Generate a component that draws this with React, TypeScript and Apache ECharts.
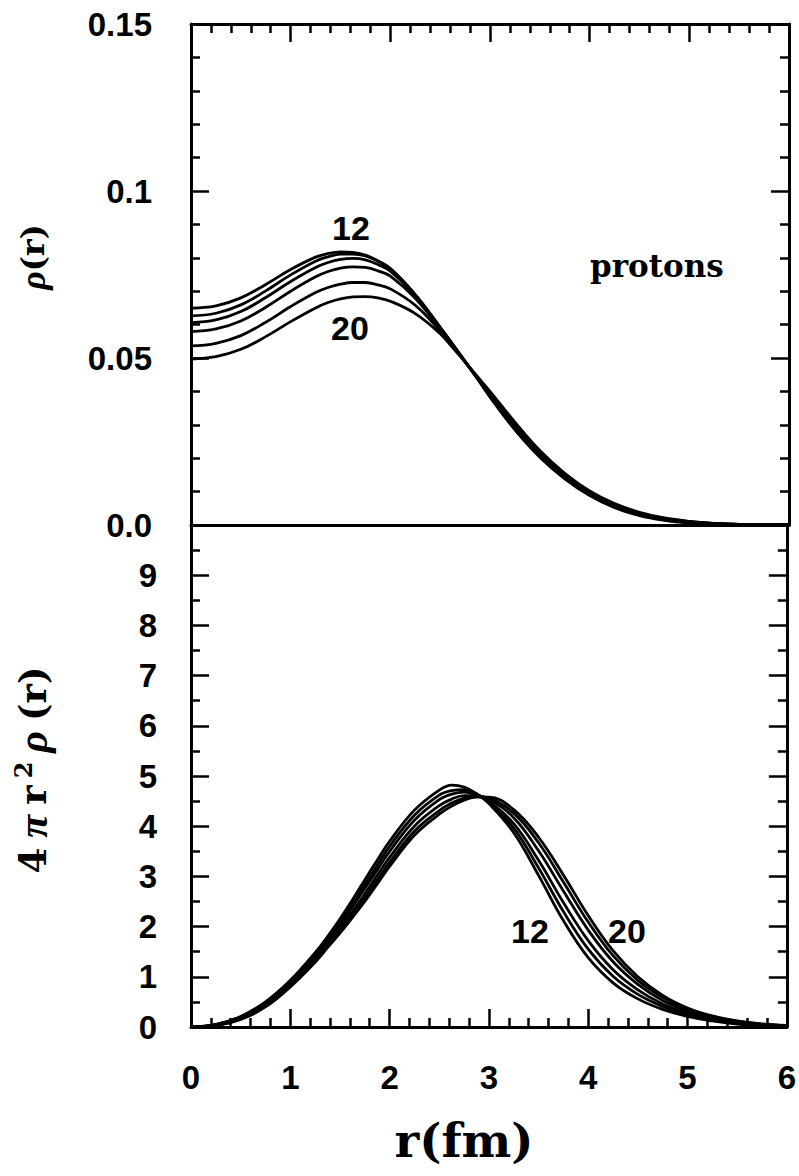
import React, { useEffect, useRef } from "react";
import * as echarts from "echarts";

// radius grid (fm)
const R = [0, 0.25, 0.5, 0.75, 1.0, 1.25, 1.375, 1.5, 1.625, 1.75, 1.875, 2.0, 2.25, 2.5, 2.625, 2.75, 2.875, 3.0, 3.25, 3.5, 3.75, 4.0, 4.25, 4.5, 4.75, 5.0, 5.25, 5.5, 5.75, 6.0];

// top panel: rho(r) for the six curves (12 ... 20)
const RHO_12 = [0.0649, 0.0656, 0.068, 0.072, 0.0765, 0.0802, 0.0813, 0.0818, 0.0816, 0.0808, 0.0791, 0.0768, 0.069, 0.0592, 0.0542, 0.049, 0.0437, 0.0383, 0.0285, 0.0203, 0.0138, 0.0088, 0.0052, 0.0028, 0.0014, 0.0006, 0.0002, 0.0001, 0.0, 0.0];
const RHO_B = [0.0626, 0.0634, 0.0659, 0.0701, 0.0749, 0.079, 0.0803, 0.0811, 0.0811, 0.0806, 0.079, 0.0768, 0.069, 0.0592, 0.0541, 0.0489, 0.0438, 0.0386, 0.0289, 0.0206, 0.0141, 0.009, 0.0054, 0.003, 0.0015, 0.0007, 0.0003, 0.0001, 0.0, 0.0];
const RHO_C = [0.0606, 0.0614, 0.0639, 0.0681, 0.0729, 0.0771, 0.0786, 0.0795, 0.0798, 0.0794, 0.078, 0.076, 0.0687, 0.059, 0.054, 0.0489, 0.0439, 0.0389, 0.0293, 0.021, 0.0144, 0.0093, 0.0057, 0.0032, 0.0017, 0.0008, 0.0004, 0.0001, 0.0, 0.0];
const RHO_D = [0.0579, 0.0587, 0.0611, 0.0652, 0.07, 0.0743, 0.0759, 0.0769, 0.0773, 0.0771, 0.0761, 0.0745, 0.0679, 0.0587, 0.0539, 0.0489, 0.044, 0.0392, 0.0297, 0.0214, 0.0148, 0.0096, 0.0059, 0.0034, 0.0018, 0.0009, 0.0004, 0.0002, 0.0001, 0.0];
const RHO_E = [0.0536, 0.0544, 0.0567, 0.0607, 0.0654, 0.0696, 0.0711, 0.0721, 0.0726, 0.0726, 0.0719, 0.0707, 0.0658, 0.0581, 0.0536, 0.0489, 0.0442, 0.0396, 0.0302, 0.0218, 0.0151, 0.0099, 0.0062, 0.0036, 0.002, 0.001, 0.0005, 0.0002, 0.0001, 0.0];
const RHO_20 = [0.0497, 0.0504, 0.0526, 0.0564, 0.0609, 0.065, 0.0666, 0.0677, 0.0683, 0.0684, 0.068, 0.067, 0.0633, 0.0573, 0.0531, 0.0488, 0.0444, 0.04, 0.0308, 0.0223, 0.0155, 0.0102, 0.0064, 0.0038, 0.0021, 0.0011, 0.0005, 0.0002, 0.0001, 0.0];

// bottom panel: 4 pi r^2 rho(r)
const RAD_12 = [0, 0.05, 0.21, 0.5, 0.93, 1.48, 1.8, 2.15, 2.53, 2.93, 3.32, 3.7, 4.32, 4.72, 4.82, 4.78, 4.65, 4.45, 3.87, 3.02, 2.12, 1.38, 0.88, 0.56, 0.35, 0.21, 0.12, 0.06, 0.03, 0.01];
const RAD_B = [0, 0.046, 0.2, 0.48, 0.9, 1.44, 1.75, 2.09, 2.46, 2.84, 3.22, 3.6, 4.22, 4.62, 4.71, 4.73, 4.64, 4.48, 3.96, 3.17, 2.3, 1.55, 1.01, 0.65, 0.41, 0.24, 0.14, 0.07, 0.036, 0.014];
const RAD_C = [0, 0.042, 0.19, 0.46, 0.88, 1.4, 1.71, 2.04, 2.39, 2.76, 3.13, 3.5, 4.12, 4.53, 4.64, 4.68, 4.62, 4.5, 4.05, 3.32, 2.48, 1.72, 1.14, 0.74, 0.46, 0.28, 0.16, 0.08, 0.042, 0.018];
const RAD_D = [0, 0.037, 0.17, 0.44, 0.85, 1.36, 1.66, 1.97, 2.3, 2.65, 3.02, 3.38, 4.0, 4.41, 4.54, 4.61, 4.61, 4.54, 4.17, 3.51, 2.71, 1.93, 1.3, 0.85, 0.53, 0.32, 0.19, 0.1, 0.05, 0.023];
const RAD_E = [0, 0.033, 0.16, 0.42, 0.82, 1.32, 1.61, 1.91, 2.24, 2.57, 2.93, 3.28, 3.9, 4.31, 4.46, 4.56, 4.59, 4.56, 4.26, 3.67, 2.89, 2.09, 1.42, 0.93, 0.59, 0.35, 0.21, 0.11, 0.054, 0.027];
const RAD_20 = [0, 0.03, 0.15, 0.4, 0.8, 1.29, 1.58, 1.87, 2.18, 2.5, 2.85, 3.2, 3.82, 4.24, 4.4, 4.52, 4.58, 4.58, 4.33, 3.78, 3.03, 2.22, 1.52, 1.0, 0.63, 0.38, 0.22, 0.12, 0.06, 0.03];

const SERIES_NAMES = ["12", "b", "c", "d", "e", "20"];
const TOP_SERIES = [RHO_12, RHO_B, RHO_C, RHO_D, RHO_E, RHO_20];
const BOTTOM_SERIES = [RAD_12, RAD_B, RAD_C, RAD_D, RAD_E, RAD_20];

const X_TICK_LABELS = ["0", "1", "2", "3", "4", "5", "6"];
const TOP_Y_TICK_LABELS = ["0.0", "0.05", "0.1", "0.15"];
const BOTTOM_Y_TICK_LABELS = ["0", "1", "2", "3", "4", "5", "6", "7", "8", "9", ""];

const TICK_FONT = "Liberation Sans";
const SERIF = "DejaVu Serif";

export default function App() {
  const ref = useRef<HTMLDivElement>(null);

  useEffect(() => {
    if (!ref.current) return;
    const chart = echarts.init(ref.current, null, { renderer: "svg" });

    const lineStyle = { color: "#000", width: 3 };
    const tick = (len: number) => ({ show: true, inside: true, length: len, lineStyle: { color: "#000", width: 2.5 } });
    const minor = (n: number) => ({ show: true, splitNumber: n, length: 9, lineStyle: { color: "#000", width: 2.5 } });
    const tickLabel = (margin: number, fmt: (v: number) => string) => ({
      show: true,
      margin,
      color: "#000",
      fontFamily: TICK_FONT,
      fontWeight: "bold" as const,
      fontSize: 33,
      formatter: fmt,
    });

    const series: any[] = [];
    TOP_SERIES.forEach((arr, k) => {
      series.push({
        name: SERIES_NAMES[k] + " rho",
        type: "line",
        xAxisIndex: 0,
        yAxisIndex: 0,
        data: R.map((r, i) => [r, arr[i]]),
        symbol: "none",
        smooth: 0.4,
        lineStyle: { color: "#000", width: 2.8 },
      });
    });
    BOTTOM_SERIES.forEach((arr, k) => {
      series.push({
        name: SERIES_NAMES[k] + " 4pir2rho",
        type: "line",
        xAxisIndex: 2,
        yAxisIndex: 2,
        data: R.map((r, i) => [r, arr[i]]),
        symbol: "none",
        smooth: 0.4,
        lineStyle: { color: "#000", width: 2.8 },
      });
    });

    chart.setOption({
      animation: false,
      backgroundColor: "#fff",
      grid: [
        { left: 191, top: 24, width: 598, height: 501 },
        { left: 191, top: 525, width: 598, height: 502 },
      ],
      xAxis: [
        {
          type: "value", gridIndex: 0, position: "top", min: 0, max: 6, interval: 1,
          axisLine: { show: true, onZero: false, lineStyle }, axisTick: tick(18), minorTick: minor(5),
          axisLabel: { show: false }, splitLine: { show: false },
        },
        {
          type: "value", gridIndex: 0, position: "bottom", min: 0, max: 6, interval: 1,
          axisLine: { show: true, onZero: false, lineStyle }, axisTick: { show: false },
          axisLabel: { show: false }, splitLine: { show: false },
        },
        {
          type: "value", gridIndex: 1, position: "bottom", min: 0, max: 6, interval: 1,
          axisLine: { show: true, onZero: false, lineStyle }, axisTick: tick(18), minorTick: minor(5),
          axisLabel: tickLabel(34, (v: number) => X_TICK_LABELS[Math.round(v)] ?? ""),
          splitLine: { show: false },
        },
      ],
      yAxis: [
        {
          type: "value", gridIndex: 0, position: "left", min: 0, max: 0.15, interval: 0.05,
          axisLine: { show: true, onZero: false, lineStyle }, axisTick: tick(18), minorTick: minor(5),
          axisLabel: tickLabel(39, (v: number) => TOP_Y_TICK_LABELS[Math.round(v / 0.05)] ?? ""),
          splitLine: { show: false },
        },
        {
          type: "value", gridIndex: 0, position: "right", min: 0, max: 0.15, interval: 0.05,
          axisLine: { show: true, onZero: false, lineStyle }, axisTick: tick(18), minorTick: minor(5),
          axisLabel: { show: false }, splitLine: { show: false },
        },
        {
          type: "value", gridIndex: 1, position: "left", min: 0, max: 10, interval: 1,
          axisLine: { show: true, onZero: false, lineStyle }, axisTick: tick(18), minorTick: minor(2),
          axisLabel: tickLabel(34, (v: number) => BOTTOM_Y_TICK_LABELS[Math.round(v)] ?? ""),
          splitLine: { show: false },
        },
        {
          type: "value", gridIndex: 1, position: "right", min: 0, max: 10, interval: 1,
          axisLine: { show: true, onZero: false, lineStyle }, axisTick: tick(18), minorTick: minor(2),
          axisLabel: { show: false }, splitLine: { show: false },
        },
      ],
      series,
      graphic: [
        {
          type: "text", x: 351, y: 228,
          style: { text: "12", fill: "#000", fontFamily: TICK_FONT, fontWeight: "bold", fontSize: 34, align: "center", verticalAlign: "middle" },
        },
        {
          type: "text", x: 350, y: 328,
          style: { text: "20", fill: "#000", fontFamily: TICK_FONT, fontWeight: "bold", fontSize: 34, align: "center", verticalAlign: "middle" },
        },
        {
          type: "text", x: 530, y: 931,
          style: { text: "12", fill: "#000", fontFamily: TICK_FONT, fontWeight: "bold", fontSize: 34, align: "center", verticalAlign: "middle" },
        },
        {
          type: "text", x: 627, y: 931,
          style: { text: "20", fill: "#000", fontFamily: TICK_FONT, fontWeight: "bold", fontSize: 34, align: "center", verticalAlign: "middle" },
        },
        {
          type: "text", x: 590, y: 266,
          style: { text: "protons", fill: "#000", fontFamily: SERIF, fontWeight: "bold", fontSize: 31, align: "left", verticalAlign: "middle" },
        },
        {
          type: "text", x: 464, y: 1140,
          style: { text: "r(fm)", fill: "#000", fontFamily: SERIF, fontWeight: "bold", fontSize: 47, align: "center", verticalAlign: "middle" },
        },
        {
          type: "text", x: 33, y: 257, rotation: Math.PI / 2,
          style: {
            text: "{g|ρ}{n|(r)}", fill: "#000", align: "center", verticalAlign: "middle",
            rich: {
              g: { fontFamily: "Liberation Serif", fontStyle: "italic", fontWeight: "bold", fontSize: 36, fill: "#000" },
              n: { fontFamily: SERIF, fontWeight: "bold", fontSize: 32, fill: "#000" },
            },
          },
        },
        {
          type: "text", x: 33, y: 770, rotation: Math.PI / 2,
          style: {
            text: "{n|4}{g|π}{n|r}{s|2}{g|ρ}{n|(r)}", fill: "#000", align: "center", verticalAlign: "middle",
            rich: {
              g: { fontFamily: "Liberation Serif", fontStyle: "italic", fontWeight: "bold", fontSize: 42, fill: "#000", padding: [0, 5] },
              n: { fontFamily: SERIF, fontWeight: "bold", fontSize: 37, fill: "#000", padding: [0, 5] },
              s: { fontFamily: SERIF, fontWeight: "bold", fontSize: 24, fill: "#000", verticalAlign: "top", padding: [0, 4, 20, 2] },
            },
          },
        },
      ],
    });

    return () => chart.dispose();
  }, []);

  return (
    <div
      ref={ref}
      style={{ position: "absolute", left: 0, top: 0, width: 799, height: 1176, background: "#fff" }}
    />
  );
}
